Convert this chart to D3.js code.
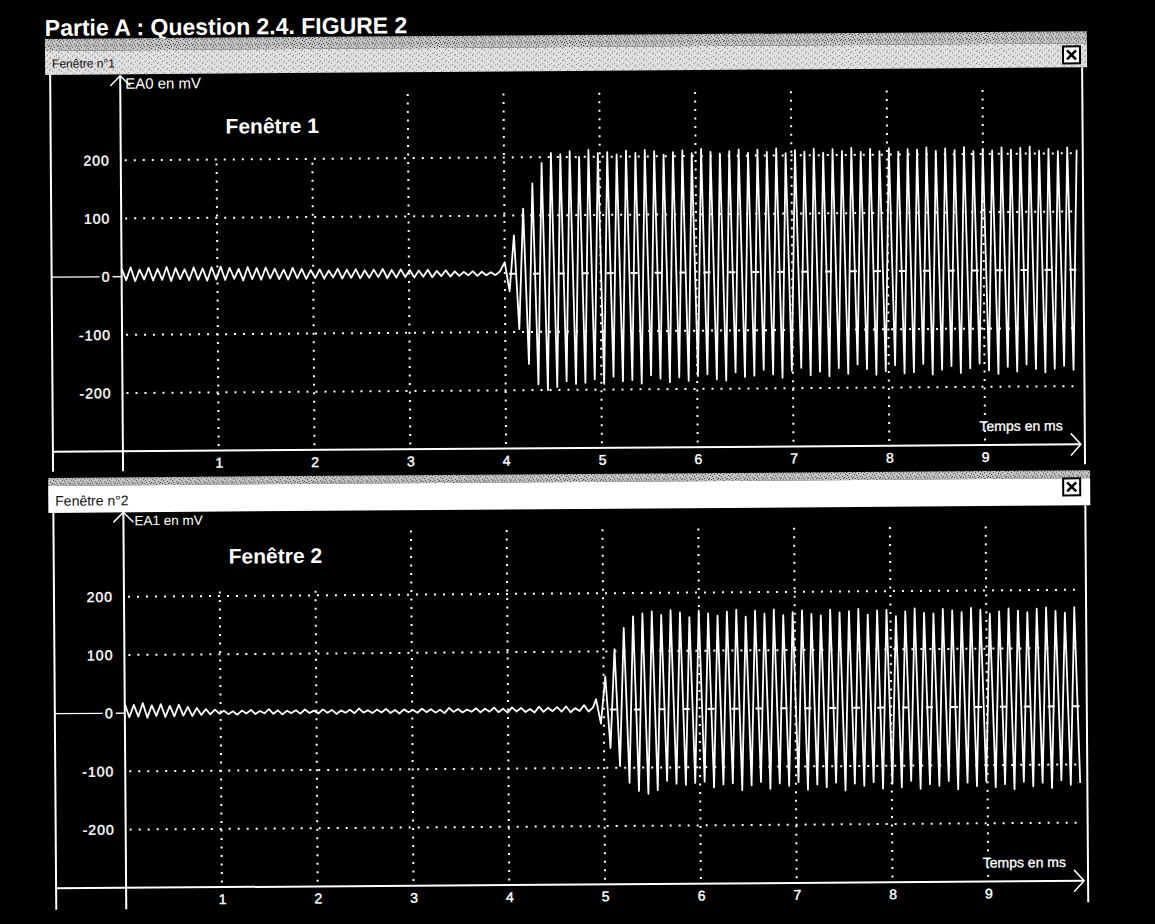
<!DOCTYPE html>
<html>
<head>
<meta charset="utf-8">
<script src="https://cdn.jsdelivr.net/npm/d3@7"></script>
<style>
  html, body { margin: 0; padding: 0; background: #000; }
  svg { display: block; }
  text { font-family: "Liberation Sans", Arial, sans-serif; }
</style>
</head>
<body>
<script>
const W = 1155, H = 924;

// tick values
const timeTicks = [1, 2, 3, 4, 5, 6, 7, 8, 9];      // ms
const voltTicks = [200, 100, 0, -100, -200];         // mV
const gridVolts = [200, 100, -100, -200];

// EA0 (Fenêtre 1): small ripple before the burst, one sample every 0.047 ms from t = 0
const ea0QuietStep = 0.047;
const ea0Quiet = [
  14, -6, 16, -8, 12, -5, 15, -7, 13, -6, 16, -8, 14, -5, 12, -7, 15, -6, 13, -8, 15,
  -6, 16, -7, 14, -5, 12, -8, 15, -6, 13, -7, 14, -5, 12, -6, 10, -7, 13, -5, 11, -6,
  9, -5, 10, -6, 8, -4, 11, -6, 9, -5, 10, -6, 8, -5, 9, -4, 10, -6, 8, -5, 9,
  -4, 8, -5, 7, -4, 8, -5, 6, -3, 7, -4, 5, -3, 4, -2, 5, -3, 4, -2, 3, -2, 4
];
// EA0 burst: successive peaks / troughs, one every 0.049 ms from t = 4.0 ms
const ea0BurstStart = 4.0;
const ea0BurstStep = 0.049;
const ea0Burst = [
  20, -30, 66, -95, 112, -155, 155, -190, 190, -200,
  207, -195, 205, -185, 210, -190, 200, -188, 212, -182, 206, -190, 208, -178, 204, -186, 210, -184, 206, -190,
  211, -176, 209, -182, 203, -188, 207, -180, 210, -186, 205, -178, 212, -175, 207, -184, 204, -186, 208, -172,
  211, -180, 205, -178, 210, -168, 206, -176, 212, -182, 204, -170, 209, -165, 206, -178, 211, -172, 204, -180,
  210, -166, 207, -176, 212, -160, 205, -168, 210, -178, 206, -172, 211, -162, 205, -176, 209, -174, 208, -160,
  212, -178, 206, -170, 210, -164, 207, -176, 212, -168, 205, -160, 209, -172, 206, -178, 211, -166, 207, -174,
  210, -162, 212, -170, 205, -176, 208, -170, 204, -165, 210, -172, 206
];
// short flat steps at 0 mV seen inside the burst (ms)
const ea0Steps = [4.08, 4.33, 4.59, 4.84, 5.10, 5.35, 5.60, 5.86, 6.11, 6.37, 6.62, 6.88,
  7.13, 7.38, 7.64, 7.89, 8.15, 8.40, 8.66, 8.91, 9.16, 9.42, 9.67, 9.93];

// EA1 (Fenêtre 2)
const ea1QuietStep = 0.047;
const ea1Quiet = [
  16, -7, 14, -6, 17, -8, 13, -5, 15, -7, 12, -6, 14, -5, 10, -6, 8, -4, 6, -3, 5,
  -2, 3, -3, 2, -4, 3, -2, 4, -3, 2, -2, 5, -3, 3, -4, 2, -2, 3, -3, 4, -2,
  2, -3, 4, -2, 3, -4, 2, -2, 3, -3, 5, -2, 2, -3, 3, -2, 4, -3, 2, -4, 3,
  -2, 2, -3, 4, -2, 3, -3, 2, -4, 5, -2, 3, -3, 2, -2, 4, -3, 3, -2, 5, -3,
  3, -4, 5, -2, 4, -3, 2, -4, 6, -3, 4, -2, 5, -3, 6, -4, 3, -2, 8, -3, 4
];
const ea1BurstStart = 4.92;
const ea1BurstStep = 0.049;
const ea1Burst = [
  18, -24, 57, -66, 104, -97, 140, -126, 160, -140, 165, -145,
  168, -139, 162, -123, 170, -128, 166, -130, 158, -127, 169, -125, 164, -135, 160, -130, 167, -128, 170, -140,
  158, -132, 168, -126, 163, -138, 170, -129, 160, -133, 165, -127, 168, -140, 162, -131, 159, -136, 169, -128,
  164, -142, 166, -130, 170, -134, 160, -128, 167, -139, 168, -131, 157, -137, 165, -126, 170, -140, 162, -132,
  161, -135, 169, -127, 166, -141, 163, -130, 170, -136, 167, -128, 160, -138, 164, -133, 169, -142, 165, -129,
  162, -137, 168, -131, 170, -140, 164, -127, 161, -135, 170, -132
];
const ea1Steps = [5.10, 5.35, 5.61, 5.86, 6.12, 6.37, 6.62, 6.88, 7.13, 7.39, 7.64, 7.89,
  8.15, 8.40, 8.66, 8.91, 9.17, 9.42, 9.67, 9.93];

// sampled points -> {t, v}
const toPoints = (quiet, qStep, burst, bStart, bStep) =>
  quiet.map((v, i) => ({ t: i * qStep, v }))
    .concat(burst.map((v, i) => ({ t: bStart + i * bStep, v })));

const ea0 = toPoints(ea0Quiet, ea0QuietStep, ea0Burst, ea0BurstStart, ea0BurstStep);
const ea1 = toPoints(ea1Quiet, ea1QuietStep, ea1Burst, ea1BurstStart, ea1BurstStep);

let svg = d3.select("body").append("svg")
  .attr("width", W)
  .attr("height", H);

svg.append("rect").attr("width", W).attr("height", H).attr("fill", "#000");

// speckled tiles to mimic the photocopied title bars
let defs = svg.append("defs");
const speckle = (id, base, ink, dots) => {
  let p = defs.append("pattern")
    .attr("id", id)
    .attr("patternUnits", "userSpaceOnUse")
    .attr("width", 9)
    .attr("height", 6);
  p.append("rect").attr("width", 9).attr("height", 6).attr("fill", base);
  dots.forEach(([x, y]) => {
    p.append("rect").attr("x", x).attr("y", y).attr("width", 1).attr("height", 1).attr("fill", ink);
  });
};
speckle("dense", "#c4c4c4", "#3a3a3a", [[0, 0], [3, 1], [6, 0], [1, 3], [5, 4], [8, 2], [2, 5], [7, 5]]);
speckle("light", "#e0e0e0", "#808080", [[1, 1], [5, 3], [8, 5], [3, 4], [7, 0]]);

// the scan is very slightly rotated
let page = svg.append("g").attr("transform", "rotate(-0.42, 577, 462)");

page.append("text")
  .attr("x", 48)
  .attr("y", 32)
  .attr("fill", "#fff")
  .attr("font-size", 23)
  .attr("font-weight", "bold")
  .text("Partie A : Question 2.4. FIGURE 2");

const x = d3.scaleLinear().domain([0, 10]).range([123, 1081]);

const panels = [
  { barText: "Fenêtre n°1", barFont: 12, label: "Fenêtre 1", axisName: "EA0 en mV", nameDx: 5, nameFont: 15,
    data: ea0, steps: ea0Steps, boxX: 1066,
    barTop: 35, barBottom: 71, dense: 12, boxTop: 50, yRange: [448, 72.5], bottom: 468, labelBase: 131 },
  { barText: "Fenêtre n°2", barFont: 14, label: "Fenêtre 2", axisName: "EA1 en mV", nameDx: 11, nameFont: 13.5,
    data: ea1, steps: ea1Steps, boxX: 1063,
    barTop: 474, barBottom: 509, dense: 8, boxTop: 482, yRange: [884.5, 509], bottom: 906, labelBase: 561 }
];

const left = 53, right = 1085;

panels.forEach((p, k) => {
  let g = page.append("g");
  let y = d3.scaleLinear().domain([-300, 345]).range(p.yRange);

  // title bar
  g.append("rect")
    .attr("x", 48).attr("y", p.barTop)
    .attr("width", 1090 - 48).attr("height", p.dense)
    .attr("fill", "url(#dense)");
  g.append("rect")
    .attr("x", 48).attr("y", p.barTop + p.dense)
    .attr("width", 1090 - 48).attr("height", p.barBottom - p.barTop - p.dense)
    .attr("fill", k === 0 ? "url(#light)" : "#fff");
  g.append("text")
    .attr("x", 55).attr("y", p.barBottom - 7)
    .attr("font-size", p.barFont)
    .attr("fill", "#111")
    .text(p.barText);

  // close box
  g.append("rect")
    .attr("x", p.boxX).attr("y", p.boxTop)
    .attr("width", 17).attr("height", 17)
    .attr("fill", "#fff").attr("stroke", "#000").attr("stroke-width", 2);
  g.append("path")
    .attr("d", `M${p.boxX + 4},${p.boxTop + 4}L${p.boxX + 13},${p.boxTop + 13}M${p.boxX + 13},${p.boxTop + 4}L${p.boxX + 4},${p.boxTop + 13}`)
    .attr("stroke", "#000").attr("stroke-width", 2.5);

  // window borders
  g.append("line")
    .attr("x1", left).attr("x2", left)
    .attr("y1", p.barBottom).attr("y2", p.bottom)
    .attr("stroke", "#fff").attr("stroke-width", 2);
  g.append("line")
    .attr("x1", right).attr("x2", right)
    .attr("y1", p.barBottom).attr("y2", p.bottom)
    .attr("stroke", "#fff").attr("stroke-width", 2);

  // dotted grid
  g.append("g").selectAll("line")
    .data(gridVolts)
    .enter()
    .append("line")
    .attr("x1", x(0) + 4).attr("x2", x(10))
    .attr("y1", d => y(d)).attr("y2", d => y(d))
    .attr("stroke", "#fff").attr("stroke-width", 2)
    .attr("stroke-dasharray", "2,7");
  g.append("g").selectAll("line")
    .data(timeTicks)
    .enter()
    .append("line")
    .attr("x1", d => x(d)).attr("x2", d => x(d))
    .attr("y1", y(310)).attr("y2", y(-300))
    .attr("stroke", "#fff").attr("stroke-width", 2)
    .attr("stroke-dasharray", "2,6.5");

  // black box behind the window caption
  g.append("rect")
    .attr("x", x(0) + 3).attr("y", p.labelBase - 40)
    .attr("width", 205).attr("height", 64)
    .attr("fill", "#000");
  g.append("text")
    .attr("x", 228).attr("y", p.labelBase)
    .attr("fill", "#fff")
    .attr("font-size", 21)
    .attr("font-weight", "bold")
    .text(p.label);

  // signal
  let clipId = "clip" + k;
  g.append("clipPath").attr("id", clipId)
    .append("rect")
    .attr("x", x(0)).attr("y", p.barBottom)
    .attr("width", x(10) - x(0)).attr("height", y(-300) - p.barBottom);
  let line = d3.line().x(d => x(d.t)).y(d => y(d.v));
  let trace = g.append("g").attr("clip-path", `url(#${clipId})`);
  trace.append("path")
    .datum(p.data)
    .attr("d", line)
    .attr("fill", "none")
    .attr("stroke", "#fff")
    .attr("stroke-width", 1.8)
    .attr("stroke-linejoin", "round");
  trace.selectAll(".step")
    .data(p.steps)
    .enter()
    .append("line")
    .attr("class", "step")
    .attr("x1", d => x(d) - 3.5).attr("x2", d => x(d) + 3.5)
    .attr("y1", y(0)).attr("y2", y(0))
    .attr("stroke", "#fff").attr("stroke-width", 2);

  // axes lines with arrows
  g.append("line")
    .attr("x1", x(0)).attr("x2", x(0))
    .attr("y1", p.bottom).attr("y2", y(345))
    .attr("stroke", "#fff").attr("stroke-width", 2);
  g.append("path")
    .attr("d", `M${x(0) - 10},${y(345) + 10}L${x(0)},${y(345)}L${x(0) + 10},${y(345) + 10}`)
    .attr("fill", "none").attr("stroke", "#fff").attr("stroke-width", 1.5);
  g.append("line")
    .attr("x1", left).attr("x2", x(10))
    .attr("y1", y(-300)).attr("y2", y(-300))
    .attr("stroke", "#fff").attr("stroke-width", 2);
  g.append("path")
    .attr("d", `M${x(10) - 10},${y(-300) - 11}L${x(10)},${y(-300)}L${x(10) - 10},${y(-300) + 11}`)
    .attr("fill", "none").attr("stroke", "#fff").attr("stroke-width", 1.5);

  // little reference line left of the zero label
  g.append("line")
    .attr("x1", left).attr("x2", 101)
    .attr("y1", y(0)).attr("y2", y(0))
    .attr("stroke", "#fff").attr("stroke-width", 1.3);
  g.append("line")
    .attr("x1", 114).attr("x2", x(0))
    .attr("y1", y(0)).attr("y2", y(0))
    .attr("stroke", "#fff").attr("stroke-width", 1.3);

  // tick labels
  let yAxis = g.append("g")
    .attr("transform", `translate(${x(0)},0)`)
    .call(d3.axisLeft(y).tickValues(voltTicks).tickSize(0).tickPadding(11).tickFormat(d => String(d)));
  yAxis.select(".domain").remove();
  yAxis.attr("font-family", null).attr("font-size", 14)
    .selectAll("text")
    .attr("fill", "#fff").attr("letter-spacing", 1)
    .attr("stroke", "#fff").attr("stroke-width", 0.4);

  let xAxis = g.append("g")
    .attr("transform", `translate(0,${y(-300)})`)
    .call(d3.axisBottom(x).tickValues(timeTicks).tickSize(0).tickPadding(7).tickFormat(d => String(d)));
  xAxis.select(".domain").remove();
  xAxis.attr("font-family", null).attr("font-size", 14)
    .selectAll("text")
    .attr("fill", "#fff")
    .attr("stroke", "#fff").attr("stroke-width", 0.4);

  g.append("text")
    .attr("x", x(0) + p.nameDx).attr("y", y(345) + 13)
    .attr("fill", "#fff").attr("font-size", p.nameFont)
    .text(p.axisName);
  g.append("text")
    .attr("x", 1063).attr("y", y(-300) - 14)
    .attr("text-anchor", "end")
    .attr("fill", "#fff").attr("font-size", 14)
    .attr("stroke", "#fff").attr("stroke-width", 0.3)
    .text("Temps en ms");
});
</script>
</body>
</html>
